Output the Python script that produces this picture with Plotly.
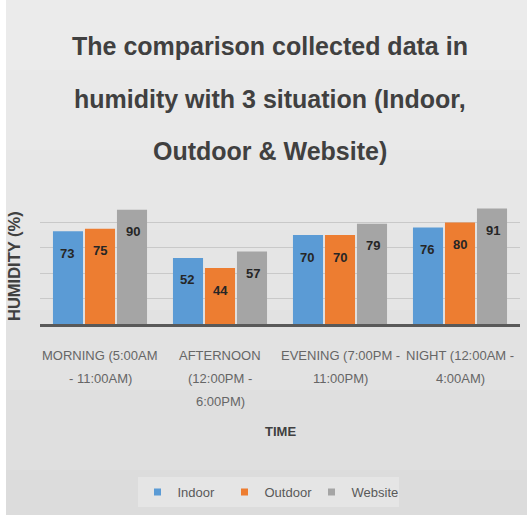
import plotly.graph_objects as go

# Time-of-day categories (x axis labels, one entry per line)
categories = [
    ["MORNING (5:00AM", "- 11:00AM)"],
    ["AFTERNOON", "(12:00PM -", "6:00PM)"],
    ["EVENING (7:00PM -", "11:00PM)"],
    ["NIGHT (12:00AM -", "4:00AM)"],
]

# Humidity (%) per situation
indoor = [73, 52, 70, 76]
outdoor = [75, 44, 70, 80]
website = [90, 57, 79, 91]

series = [
    ("Indoor", indoor, "#5B9BD5"),
    ("Outdoor", outdoor, "#ED7D31"),
    ("Website", website, "#A5A5A5"),
]

FONT = "Liberation Sans, Arial, sans-serif"
W, H = 527, 515
PLOT_TOP, PLOT_BOTTOM, PLOT_LEFT, PLOT_RIGHT = 197, 324, 40, 520


def px_x(p):
    """Canvas pixel column -> paper x."""
    return (p - PLOT_LEFT) / (PLOT_RIGHT - PLOT_LEFT)


def px_y(p):
    """Canvas pixel row -> paper y."""
    return (PLOT_BOTTOM - p) / (PLOT_BOTTOM - PLOT_TOP)


xs = list(range(len(categories)))
fig = go.Figure()
for name, vals, color in series:
    fig.add_trace(go.Bar(
        name=name, x=xs, y=vals, showlegend=False, legendgroup=name,
        marker=dict(color=color, line=dict(width=0)),
    ))
# Legend entries with small square keys
for name, vals, color in series:
    fig.add_trace(go.Scatter(
        name=name, x=[None], y=[None], mode="markers", legendgroup=name,
        marker=dict(symbol="square", size=7, color=color),
    ))

annotations = []

# Value labels sitting just inside the top of each bar
offsets = [-0.275, 0.0, 0.275]
for (name, vals, color), off in zip(series, offsets):
    for i, v in enumerate(vals):
        annotations.append(dict(
            x=i + off, y=v, xref="x", yref="y", text=f"<b>{v}</b>",
            showarrow=False, yshift=-22,
            font=dict(family=FONT, size=13, color="#262626"),
        ))

# Category labels under the axis
for i, lines in enumerate(categories):
    for k, line in enumerate(lines):
        annotations.append(dict(
            x=i, xref="x", y=px_y(355 + 23 * k), yref="paper",
            text=line, showarrow=False, xanchor="center", yanchor="middle",
            font=dict(family=FONT, size=13, color="#666666"),
        ))

# Three-line chart title
title_lines = [
    "The comparison collected data in",
    "humidity with 3 situation (Indoor,",
    "Outdoor & Website)",
]
for k, line in enumerate(title_lines):
    annotations.append(dict(
        x=px_x(270), xref="paper", y=px_y(46 + 52.5 * k), yref="paper",
        text=f"<b>{line}</b>", showarrow=False,
        xanchor="center", yanchor="middle",
        font=dict(family=FONT, size=25, color="#404040"),
    ))

# Axis titles
annotations.append(dict(
    x=px_x(280), xref="paper", y=px_y(431), yref="paper",
    text="<b>TIME</b>", showarrow=False, xanchor="center", yanchor="middle",
    font=dict(family=FONT, size=13, color="#404040"),
))
annotations.append(dict(
    x=px_x(14), xref="paper", y=px_y(266), yref="paper",
    text="<b>HUMIDITY (%)</b>", showarrow=False, textangle=-90,
    xanchor="center", yanchor="middle",
    font=dict(family=FONT, size=16.5, color="#404040"),
))

# Soft vertical shading of the chart background, plus the thin left margin
shapes = []
for depth in [70, 150, 230, 310, 390, 470]:
    shapes.append(dict(
        type="rect", xref="paper", yref="paper", layer="below",
        x0=px_x(0), x1=px_x(W), y0=px_y(depth), y1=px_y(0),
        fillcolor="white", opacity=0.1, line=dict(width=0),
    ))
shapes.append(dict(
    type="rect", xref="paper", yref="paper", layer="below",
    x0=px_x(0), x1=px_x(6), y0=px_y(H), y1=px_y(0),
    fillcolor="white", line=dict(width=0),
))

fig.update_layout(
    width=W, height=H,
    margin=dict(l=PLOT_LEFT, r=W - PLOT_RIGHT, t=PLOT_TOP, b=H - PLOT_BOTTOM, pad=0),
    paper_bgcolor="#dcdcdc", plot_bgcolor="rgba(0,0,0,0)",
    barmode="group", bargap=0.2, bargroupgap=0.06,
    showlegend=True,
    legend=dict(
        orientation="h", x=px_x(268), xanchor="center",
        y=px_y(492), yanchor="middle",
        bgcolor="rgba(255,255,255,0.25)",
        font=dict(family=FONT, size=13, color="#595959"),
        itemwidth=30, tracegroupgap=0, entrywidth=42, entrywidthmode="pixels",
    ),
    annotations=annotations,
    shapes=shapes,
)
fig.update_xaxes(
    range=[-0.5, len(categories) - 0.5],
    showline=True, linecolor="#595959", linewidth=3,
    showgrid=False, ticks="", showticklabels=False,
)
fig.update_yaxes(
    range=[0, 100], dtick=20, showticklabels=False,
    showgrid=True, gridcolor="#c9c9c9", gridwidth=1,
    zeroline=False, showline=False,
)

fig.write_html("out.html")
